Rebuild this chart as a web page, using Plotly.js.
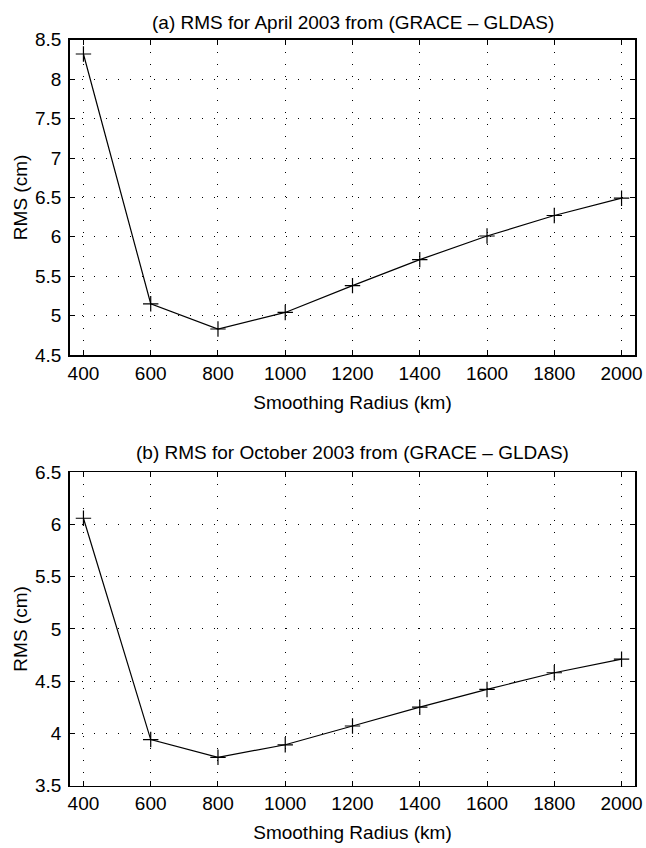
<!DOCTYPE html>
<html>
<head>
<meta charset="utf-8">
<script src="https://cdn.plot.ly/plotly-3.0.1.min.js"></script>
<style>
  html, body { margin: 0; padding: 0; background: #fff; }
  #chart { width: 646px; height: 848px; }
</style>
</head>
<body>
<div id="chart"></div>
<script>
// Smoothing radius (km)
const radius = [400, 600, 800, 1000, 1200, 1400, 1600, 1800, 2000];
// (a) April 2003 RMS (cm)
const rmsApril = [8.32, 5.15, 4.83, 5.04, 5.38, 5.71, 6.01, 6.27, 6.49];
// (b) October 2003 RMS (cm)
const rmsOctober = [6.06, 3.94, 3.77, 3.89, 4.07, 4.25, 4.42, 4.58, 4.71];

const titleA = '(a) RMS for April 2003 from (GRACE \u2013 GLDAS)';
const titleB = '(b) RMS for October 2003 from (GRACE \u2013 GLDAS)';
const xTitle = 'Smoothing Radius (km)';
const yTitle = 'RMS (cm)';

const FONT = 'Liberation Sans, Arial, Helvetica, sans-serif';
const FS = 19;
const W = 646, H = 848;
const xDom = [70 / W, 635 / W];
const yDomA = [1 - 355 / H, 1 - 39.8 / H];
const yDomB = [1 - 785.5 / H, 1 - 472.3 / H];

function trace(y, xa, ya) {
  return {
    x: radius, y: y, xaxis: xa, yaxis: ya,
    type: 'scatter', mode: 'lines+markers',
    line: { color: '#000', width: 1.2 },
    marker: { symbol: 'cross-thin-open', size: 11, color: '#000', line: { color: '#000', width: 1.2 } },
    hoverinfo: 'x+y', showlegend: false
  };
}

function xaxis(anchor) {
  return {
    domain: xDom, anchor: anchor,
    range: [360, 2040], tickmode: 'linear', tick0: 400, dtick: 200,
    showline: true, linecolor: '#000', linewidth: 1.8, mirror: 'allticks',
    ticks: 'inside', ticklen: 5, tickwidth: 1, tickcolor: '#000',
    showgrid: true, gridcolor: '#000', gridwidth: 1, griddash: '1px,11px',
    zeroline: false,
    tickfont: { family: FONT, size: FS, color: '#000' },
    title: { text: xTitle, font: { family: FONT, size: FS, color: '#000' }, standoff: 13 },
    automargin: false
  };
}
function yaxis(anchor, dom, range, tick0) {
  return {
    domain: dom, anchor: anchor,
    range: range, tickmode: 'linear', tick0: tick0, dtick: 0.5,
    showline: true, linecolor: '#000', linewidth: 1.8, mirror: 'allticks',
    ticks: 'inside', ticklen: 5, tickwidth: 1, tickcolor: '#000',
    showgrid: true, gridcolor: '#000', gridwidth: 1, griddash: '1px,11px',
    zeroline: false,
    tickfont: { family: FONT, size: FS, color: '#000' },
    ticklabelstandoff: 3,
    title: { text: yTitle, font: { family: FONT, size: FS, color: '#000' }, standoff: 2 },
    automargin: false
  };
}

const data = [trace(rmsApril, 'x', 'y'), trace(rmsOctober, 'x2', 'y2')];

const layout = {
  width: W, height: H,
  margin: { l: 0, r: 0, t: 0, b: 0 },
  paper_bgcolor: '#fff', plot_bgcolor: '#fff',
  font: { family: FONT, size: FS, color: '#000' },
  xaxis: xaxis('y'),
  yaxis: yaxis('x', yDomA, [4.5, 8.5], 4.5),
  xaxis2: xaxis('y2'),
  yaxis2: yaxis('x2', yDomB, [3.5, 6.5], 3.5),
  annotations: [
    { text: titleA, xref: 'paper', yref: 'paper', x: (xDom[0] + xDom[1]) / 2, y: 1 - 22.5 / H,
      xanchor: 'center', yanchor: 'middle', showarrow: false, font: { family: FONT, size: FS, color: '#000' } },
    { text: titleB, xref: 'paper', yref: 'paper', x: (xDom[0] + xDom[1]) / 2, y: 1 - 452 / H,
      xanchor: 'center', yanchor: 'middle', showarrow: false, font: { family: FONT, size: FS, color: '#000' } }
  ]
};

Plotly.newPlot('chart', data, layout, { displayModeBar: false, staticPlot: true });
</script>
</body>
</html>
